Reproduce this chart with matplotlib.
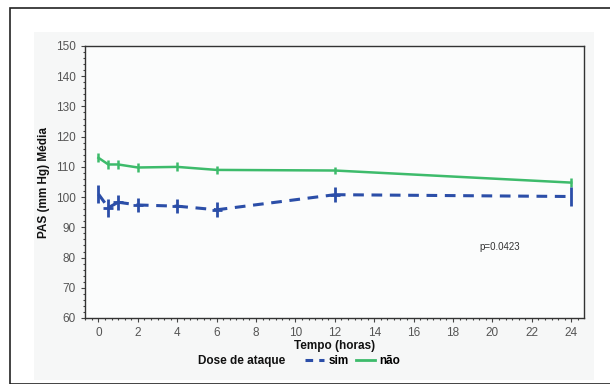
import matplotlib
matplotlib.use("Agg")
import matplotlib.pyplot as plt
from matplotlib.ticker import MultipleLocator
from matplotlib.lines import Line2D
from matplotlib.patches import Rectangle

plt.rcParams['font.family'] = ['Liberation Sans', 'DejaVu Sans']

times = [0, 0.5, 1, 2, 4, 6, 12, 24]
sim_mean = [101.0, 96.5, 98.3, 97.4, 97.0, 95.8, 100.8, 100.2]
sim_err = [3.0, 3.0, 2.5, 2.3, 2.3, 2.5, 2.5, 3.3]
nao_mean = [113.0, 110.8, 110.8, 109.8, 110.0, 109.0, 108.8, 104.8]
nao_err = [1.5, 1.5, 1.5, 1.5, 1.5, 1.3, 1.3, 1.5]
xticks = list(range(0, 25, 2))
yticks = list(range(60, 151, 10))

blue = '#2b4ea8'
green = '#3dbb6b'

fig = plt.figure(figsize=(6.1, 3.84), dpi=100)
fig.patch.set_facecolor('white')
# outer border
fig.add_artist(Rectangle((10/610, 0), 1, 1 - 8/384, transform=fig.transFigure,
                         fill=False, edgecolor='#222222', lw=1.2, zorder=-5))
# gray panel
fig.add_artist(Rectangle((34/610, 4/384), (594-34)/610, (352-4)/384, transform=fig.transFigure,
                         facecolor='#f6f7f7', edgecolor='none', zorder=-6))

ax = fig.add_axes([84.5/610, 1 - 318/384, (584-84.5)/610, (318-46)/384])
ax.set_zorder(2)
ax.set_facecolor('#fbfcfc')

ax.plot(times, nao_mean, color=green, lw=1.8, zorder=3)
ax.errorbar(times, nao_mean, yerr=nao_err, fmt='none', ecolor=green, elinewidth=1.8, capsize=0, zorder=3)
# dashed line drawn segment by segment so each dash pattern starts at a point
for i in range(len(times) - 1):
    ax.plot(times[i:i+2], sim_mean[i:i+2], color=blue, lw=2.2, dashes=(3.5, 2.5), zorder=3)
ax.errorbar(times, sim_mean, yerr=sim_err, fmt='none', ecolor=blue, elinewidth=2.0, capsize=0, zorder=3)
ax.errorbar(times[1:-1], sim_mean[1:-1], xerr=0.25, fmt='none', ecolor=blue, elinewidth=2.0, capsize=0, zorder=3)

ax.set_xlim(-0.71, 24.65)
ax.set_ylim(60, 150)
ax.set_xticks(xticks)
ax.set_yticks(yticks)
ax.xaxis.set_minor_locator(MultipleLocator(1/3))
ax.yaxis.set_minor_locator(MultipleLocator(2))
ax.tick_params(axis='both', which='major', labelsize=8.5, labelcolor='#555555', color='#444444', length=3, width=0.8)
ax.tick_params(axis='both', which='minor', color='#444444', length=1.5, width=0.8)
for s in ax.spines.values():
    s.set_color('#333333')
    s.set_linewidth(1.0)

ax.set_ylabel('PAS (mm Hg) Média', fontsize=8.5, fontweight='bold', color='#111111', labelpad=4)
ax.set_xlabel('Tempo (horas)', fontsize=8.5, fontweight='bold', color='#111111', labelpad=1)

ax.text(20.35, 83.5, 'p=0.0423', fontsize=7, color='#333333', ha='center', va='center')

fig.text(242/610, 1 - 361/384, 'Dose de ataque', fontsize=8.5, fontweight='bold', color='#111111', ha='center', va='center')
handles = [Line2D([0], [0], color=blue, lw=2.2, dashes=(2.5, 2.0)),
           Line2D([0], [0], color=green, lw=2.0)]
fig.legend(handles, ['sim', 'não'], loc='center left', bbox_to_anchor=(305/610, 1 - 361/384), ncol=2,
           frameon=False, handlelength=1.6, handletextpad=0.4, columnspacing=0.6,
           borderaxespad=0, borderpad=0,
           prop={'weight': 'bold', 'size': 8.5})

fig.savefig('out.png', dpi=100)
